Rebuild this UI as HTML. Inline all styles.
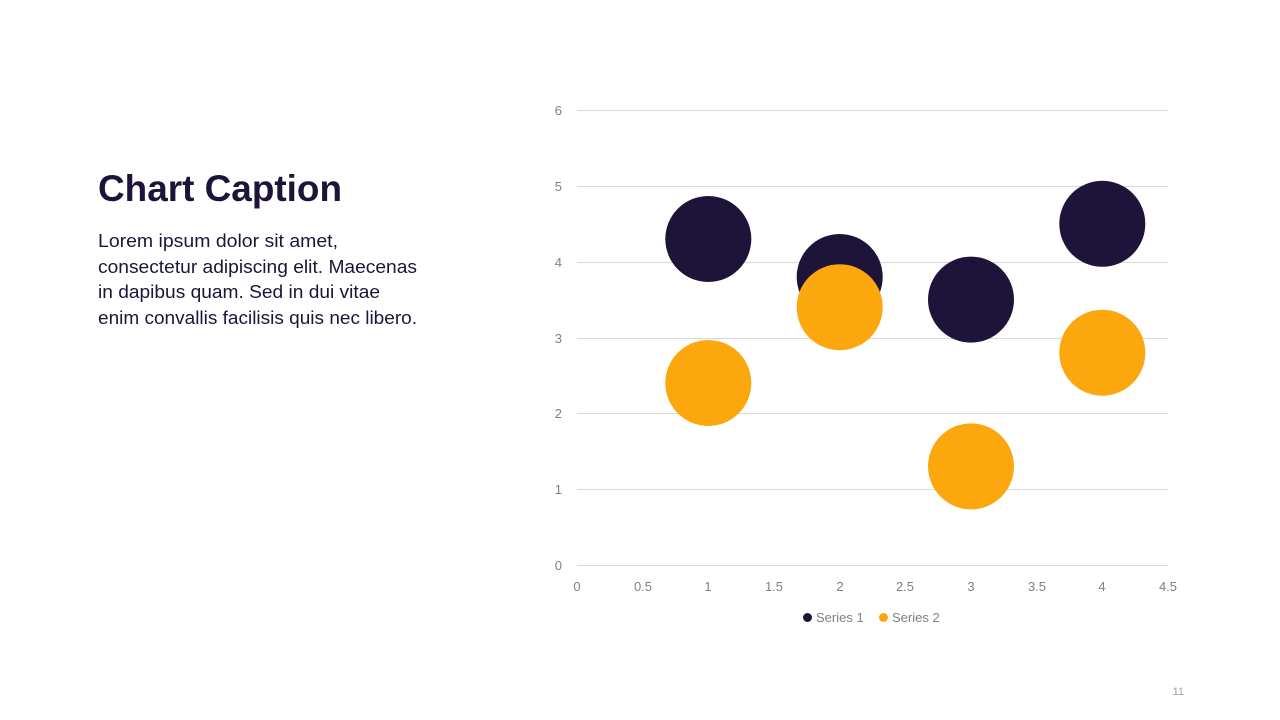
<!DOCTYPE html>
<html><head><meta charset="utf-8"><style>
html,body{margin:0;padding:0;background:#fff;}
svg{display:block;}
</style></head><body>
<svg width="1280" height="720" xmlns="http://www.w3.org/2000/svg" font-family="Liberation Sans, sans-serif">
<text x="98" y="201" font-size="37" font-weight="bold" fill="#1e1439" textLength="244" lengthAdjust="spacingAndGlyphs">Chart Caption</text>
<g font-size="18" fill="#1e1439">
<text x="98" y="247" textLength="240" lengthAdjust="spacingAndGlyphs">Lorem ipsum dolor sit amet,</text>
<text x="98" y="273" textLength="319" lengthAdjust="spacingAndGlyphs">consectetur adipiscing elit. Maecenas</text>
<text x="98" y="298" textLength="282" lengthAdjust="spacingAndGlyphs">in dapibus quam. Sed in dui vitae</text>
<text x="98" y="324" textLength="319" lengthAdjust="spacingAndGlyphs">enim convallis facilisis quis nec libero.</text>
</g>
<g stroke="#d9d9d9" stroke-width="1">
<line x1="577" x2="1168" y1="110.5" y2="110.5"/>
<line x1="577" x2="1168" y1="186.5" y2="186.5"/>
<line x1="577" x2="1168" y1="262.5" y2="262.5"/>
<line x1="577" x2="1168" y1="338.5" y2="338.5"/>
<line x1="577" x2="1168" y1="413.5" y2="413.5"/>
<line x1="577" x2="1168" y1="489.5" y2="489.5"/>
<line x1="577" x2="1168" y1="565.5" y2="565.5"/>
</g>
<g font-size="13" fill="#808080" text-anchor="end">
<text x="562" y="115">6</text><text x="562" y="191">5</text><text x="562" y="267">4</text>
<text x="562" y="343">3</text><text x="562" y="418">2</text><text x="562" y="494">1</text><text x="562" y="570">0</text>
</g>
<g font-size="13" fill="#808080" text-anchor="middle">
<text x="577" y="591">0</text><text x="643" y="591">0.5</text><text x="708" y="591">1</text>
<text x="774" y="591">1.5</text><text x="840" y="591">2</text><text x="905" y="591">2.5</text>
<text x="971" y="591">3</text><text x="1037" y="591">3.5</text><text x="1102" y="591">4</text><text x="1168" y="591">4.5</text>
</g>
<g fill="#1e1439">
<circle cx="708.3" cy="239" r="43"/>
<circle cx="839.7" cy="277" r="43"/>
<circle cx="971" cy="299.6" r="43"/>
<circle cx="1102.3" cy="223.8" r="43"/>
</g>
<g fill="#fda70f">
<circle cx="708.3" cy="383" r="43"/>
<circle cx="839.7" cy="307.2" r="43"/>
<circle cx="971" cy="466.4" r="43"/>
<circle cx="1102.3" cy="352.7" r="43"/>
</g>
<circle cx="807.5" cy="617.5" r="4.5" fill="#1e1439"/>
<text x="816" y="622" font-size="13" fill="#808080">Series 1</text>
<circle cx="883.5" cy="617.5" r="4.5" fill="#fda70f"/>
<text x="892" y="622" font-size="13" fill="#808080">Series 2</text>
<text x="1184" y="695" font-size="11" fill="#a0a0a0" text-anchor="end">11</text>
</svg>
</body></html>
